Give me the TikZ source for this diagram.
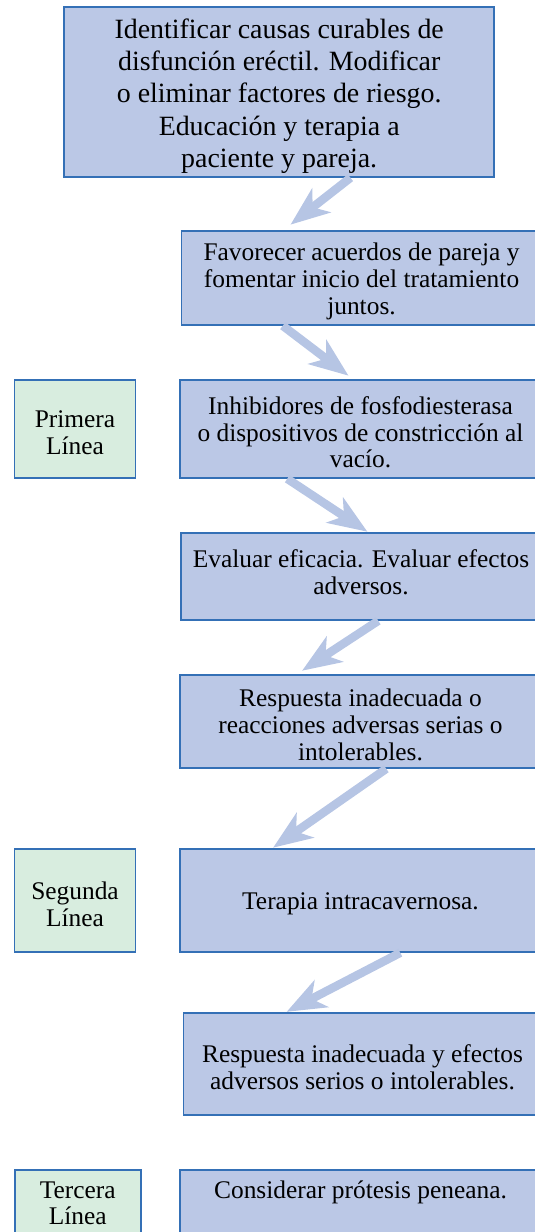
\documentclass[tikz,border=0pt]{standalone}
\usepackage{fontspec}
\setmainfont{Liberation Serif}
\usetikzlibrary{arrows.meta}
\definecolor{boxblue}{RGB}{187,200,230}
\definecolor{boxgreen}{RGB}{216,237,223}
\definecolor{edgeblue}{RGB}{52,112,182}
\definecolor{arrowblue}{RGB}{182,197,228}
\tikzset{
  bluebox/.style={draw=edgeblue, line width=1.5pt, fill=boxblue, rectangle, inner sep=0pt},
  greenbox/.style={draw=edgeblue, line width=1.5pt, fill=boxgreen, rectangle, inner sep=0pt},
  bigtxt/.style={align=center, inner sep=0pt, font=\fontsize{27.9}{32.2}\selectfont},
  txt/.style={align=center, inner sep=0pt, font=\fontsize{25.4}{26.7}\selectfont},
  flowarrow/.style={draw=arrowblue, line width=8.5pt, -{Stealth[length=39pt, width=30pt, inset=11pt]}, shorten >=1pt}
}
\begin{document}
\begin{tikzpicture}[x=1pt,y=-1pt]
\useasboundingbox (0,0) rectangle (535,1232);
\clip (0,0) rectangle (535,1232);
% boxes
\node[bluebox, minimum width=430pt, minimum height=170pt] (b1) at (279.2,92) {};
\node[bluebox, minimum width=360pt, minimum height=94pt] (b2) at (361.5,278) {};
\node[bluebox, minimum width=361pt, minimum height=98pt] (b3) at (360.5,429) {};
\node[greenbox, minimum width=121pt, minimum height=98pt] (g1) at (75,429) {};
\node[bluebox, minimum width=360pt, minimum height=87pt] (b4) at (361,576.5) {};
\node[bluebox, minimum width=361pt, minimum height=93pt] (b5) at (360.5,721.5) {};
\node[bluebox, minimum width=361pt, minimum height=103pt] (b6) at (360.5,900.5) {};
\node[greenbox, minimum width=121pt, minimum height=103pt] (g2) at (75,900.5) {};
\node[bluebox, minimum width=358pt, minimum height=102pt] (b7) at (362.5,1064) {};
\node[bluebox, minimum width=361pt, minimum height=90pt] (b8) at (360.5,1215) {};
\node[greenbox, minimum width=126pt, minimum height=90pt] (g3) at (77.8,1215) {};
% texts
\node[bigtxt] (t1) at ([yshift=-4pt]b1.center) {Identificar causas curables de\\disfunción eréctil. Modificar\\o eliminar factores de riesgo.\\Educación y terapia a\\paciente y pareja.};
\node[txt] (t2) at ([yshift=-3.5pt]b2.center) {Favorecer acuerdos de pareja y\\fomentar inicio del tratamiento\\juntos.};
\node[txt] (t3) at ([yshift=-3.5pt]b3.center) {Inhibidores de fosfodiesterasa\\o dispositivos de constricción al\\vacío.};
\node[txt] (tg1) at ([yshift=-3.5pt]g1.center) {Primera\\Línea};
\node[txt] (t4) at ([yshift=4.5pt]b4.center) {Evaluar eficacia. Evaluar efectos\\adversos.};
\node[txt] (t5) at ([yshift=-3.5pt]b5.center) {Respuesta inadecuada o\\reacciones adversas serias o\\intolerables.};
\node[txt] (t6) at ([yshift=-3.5pt]b6.center) {Terapia intracavernosa.};
\node[txt] (tg2) at ([yshift=-3.5pt]g2.center) {Segunda\\Línea};
\node[txt] (t7) at ([yshift=-3.5pt]b7.center) {Respuesta inadecuada y efectos\\adversos serios o intolerables.};
\node[txt, anchor=center] (t8) at ([yshift=-23pt]b8.north) {Considerar prótesis peneana.};
\node[txt, anchor=north] (tg3) at ([yshift=-12pt]g3.north) {Tercera\\Línea};
% arrows
\draw[flowarrow] ([xshift=287pt]b1.south west) -- ([xshift=109pt,yshift=5pt]b2.north west);
\draw[flowarrow] ([xshift=102pt]b2.south west) -- ([xshift=170pt,yshift=3pt]b3.north west);
\draw[flowarrow] ([xshift=108pt]b3.south west) -- ([xshift=188pt]b4.north west);
\draw[flowarrow] ([xshift=198pt]b4.south west) -- ([xshift=122pt,yshift=3pt]b5.north west);
\draw[flowarrow] ([xshift=207pt]b5.south west) -- ([xshift=93pt]b6.north west);
\draw[flowarrow] ([xshift=221pt]b6.south west) -- ([xshift=103pt]b7.north west);
\end{tikzpicture}
\end{document}
